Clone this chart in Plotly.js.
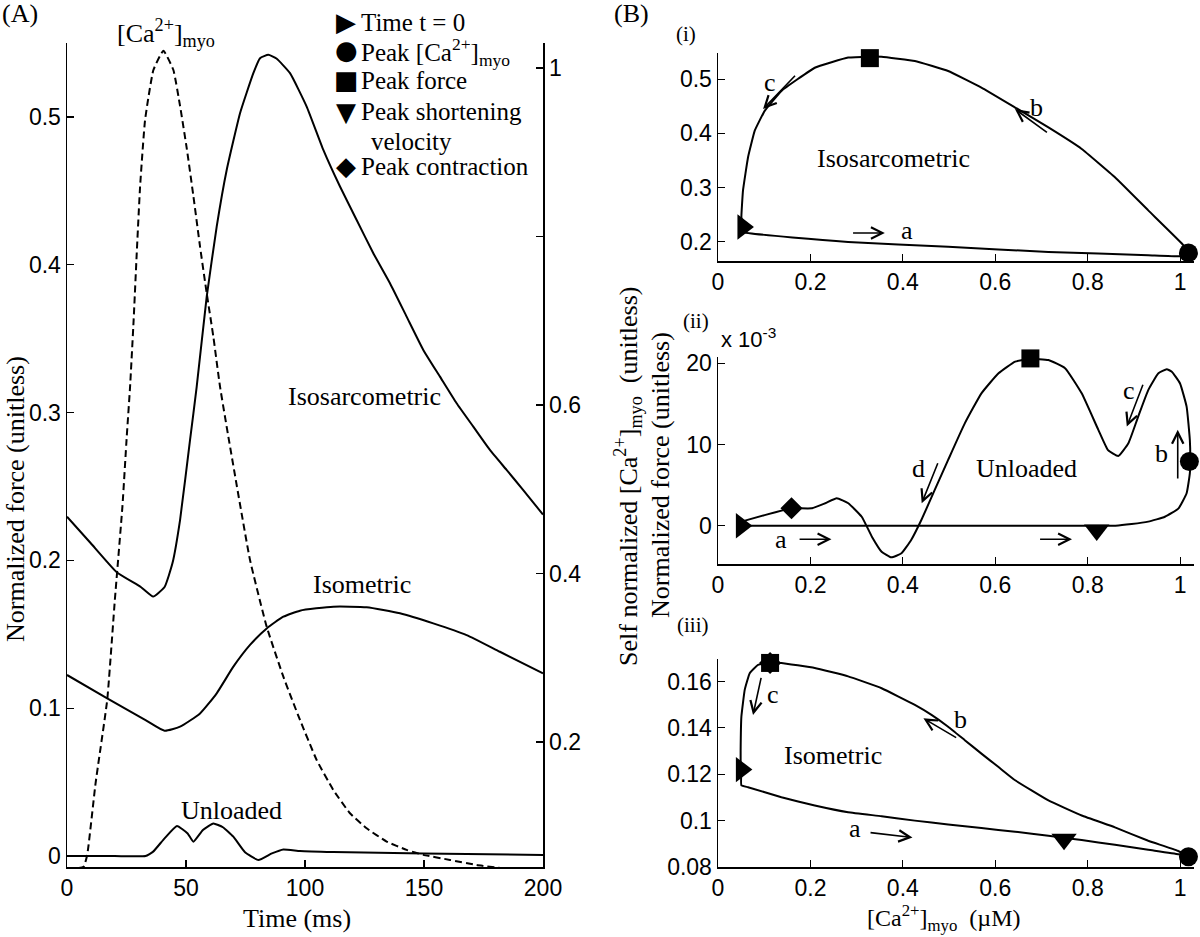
<!DOCTYPE html>
<html><head><meta charset="utf-8">
<script src="https://cdn.plot.ly/plotly-3.0.1.min.js"></script>
<style>html,body{margin:0;padding:0;background:#fff}#chart{width:1200px;height:937px}</style>
</head><body><div id="chart"></div>
<script>
// ---------- Panel A : time courses ----------
const timeIsosarc = [0, 10, 20.9, 31, 36.2, 41, 44.3, 47.5, 51.7, 54.5, 58.7, 62.9, 67.1, 72.7, 78.3, 81.1, 84.6, 88, 93.7, 100.7, 107.7, 114.7, 121.7, 128.7, 135.7, 142.7, 149.7, 156.7, 163.7, 170.7, 177.7, 184.7, 191.7, 200];
const forceIsosarc = [0.2296, 0.2116, 0.192, 0.182, 0.1755, 0.182, 0.198, 0.2273, 0.2815, 0.3175, 0.3784, 0.4258, 0.4641, 0.5025, 0.5296, 0.5397, 0.542, 0.5395, 0.5296, 0.507, 0.4777, 0.4529, 0.4303, 0.4078, 0.3875, 0.3649, 0.3424, 0.3243, 0.3063, 0.2905, 0.2747, 0.2612, 0.2476, 0.231];
const timeIsom = [0, 16.9, 33, 41, 47.5, 55.9, 62.9, 69.9, 76.9, 83.9, 90.9, 97.9, 111.9, 125.9, 139.9, 153.9, 167.9, 181.9, 200];
const forceIsom = [0.1225, 0.1067, 0.092, 0.0848, 0.0875, 0.0965, 0.1101, 0.1281, 0.1428, 0.154, 0.1619, 0.166, 0.1687, 0.1683, 0.1642, 0.1574, 0.1495, 0.1382, 0.1236];
const timeUnl = [0, 20, 33, 36.2, 41, 46.2, 50.7, 53.1, 57.1, 61.5, 65.5, 69.9, 74.8, 80.4, 86.1, 90.9, 97.9, 111.9, 149.7, 200];
const forceUnl = [0, 0, 0, 0.003, 0.012, 0.0203, 0.0153, 0.0097, 0.0176, 0.0221, 0.0195, 0.0131, 0.0025, -0.0027, 0.0018, 0.0045, 0.0034, 0.0027, 0.0018, 0.0007];
const timeCa = [0, 4, 7, 8.5, 12, 16.9, 20.1, 23.3, 25.1, 26.5, 28, 29.3, 30.7, 32.8, 36.3, 40.5, 44.7, 47.5, 50.3, 53.1, 55.9, 58.7, 61.5, 64.3, 67.8, 76.9, 83.9, 90.9, 97.9, 104.9, 111.9, 118.9, 125.9, 134.3, 142.7, 149.7, 160.9, 172.1, 183.3];
const caMyo = [0.05, 0.05, 0.052, 0.066, 0.151, 0.25, 0.3685, 0.48, 0.5624, 0.6217, 0.701, 0.78, 0.859, 0.9383, 0.9976, 1.0205, 0.9976, 0.955, 0.905, 0.848, 0.788, 0.7326, 0.681, 0.6217, 0.5624, 0.416, 0.3369, 0.2775, 0.2261, 0.1786, 0.143, 0.1154, 0.0975, 0.0818, 0.0719, 0.066, 0.06, 0.054, 0.05];

const timeTicks = [0, 50, 100, 150, 200];
const forceTicksA = [0, 0.1, 0.2, 0.3, 0.4, 0.5];
const forceTickTextA = ["0", "0.1", "0.2", "0.3", "0.4", "0.5"];
const caTicksA = [0.2, 0.4, 0.6, 0.8, 1];
const caTickTextA = ["0.2", "0.4", "0.6", "", "1"];

// ---------- Panel B : force vs [Ca2+] loops ----------
const caTicksB = [0, 0.2, 0.4, 0.6, 0.8, 1];
const caTickTextB = ["0", "0.2", "0.4", "0.6", "0.8", "1"];

// (i) isosarcometric
const loopIsosarcCa = [0.054, 0.054, 0.2816, 0.498, 0.715, 0.931, 1.0037, 1.02, 1.0037, 0.931, 0.859, 0.787, 0.715, 0.643, 0.570, 0.498, 0.426, 0.354, 0.3286, 0.2816, 0.2094, 0.1373, 0.101, 0.0795, 0.065, 0.0541, 0.0506, 0.053];
const loopIsosarcF = [0.2272, 0.218, 0.1996, 0.1905, 0.1812, 0.1752, 0.1733, 0.178, 0.1967, 0.2579, 0.3191, 0.3713, 0.411, 0.4478, 0.4846, 0.5153, 0.5336, 0.5415, 0.5418, 0.54, 0.5213, 0.4785, 0.4417, 0.405, 0.356, 0.2947, 0.2456, 0.2272];
const markIsosarcCa = [0.054, 1.018, 0.3286];
const markIsosarcF = [0.2272, 0.1794, 0.539];
const markIsosarcSym = ["triangle-right", "circle", "square"];
const forceTicksI = [0.2, 0.3, 0.4, 0.5];
const forceTickTextI = ["0.2", "0.3", "0.4", "0.5"];

// (ii) unloaded (force in units of 1e-3)
const loopUnlCa = [0.0506, 0.3, 0.6, 0.82, 0.86, 0.895, 0.931, 0.967, 0.996, 1.014, 1.021, 1.022, 1.021, 1.014, 0.9996, 0.982, 0.971, 0.953, 0.931, 0.909, 0.888, 0.866, 0.844, 0.823, 0.787, 0.751, 0.715, 0.676, 0.643, 0.607, 0.570, 0.534, 0.498, 0.469, 0.440, 0.418, 0.397, 0.375, 0.354, 0.333, 0.311, 0.282, 0.257, 0.232, 0.203, 0.174, 0.159, 0.101, 0.0506];
const loopUnlF = [0, 0, 0, 0, 0, 0.2, 0.5, 1.1, 2.1, 4.0, 6.45, 8.0, 10.55, 14.66, 17.54, 18.97, 19.26, 18.77, 16.7, 13.4, 10.15, 8.58, 9.3, 11.8, 16.3, 19.4, 20.4, 20.55, 20.2, 18.77, 16.3, 12.6, 8.1, 4.4, 0.7, -1.76, -3.4, -3.9, -3.2, -1.35, 1.1, 2.76, 3.37, 2.76, 2.14, 2.14, 2.14, 1.3, 0.5];
const markUnlCa = [0.0506, 0.159, 0.676, 0.8195, 1.02];
const markUnlF = [0, 2.14, 20.6, -0.53, 7.9];
const markUnlSym = ["triangle-right", "diamond", "square", "triangle-down", "circle"];
const forceTicksII = [0, 10, 20];
const forceTickTextII = ["0", "10", "20"];

// (iii) isometric
const loopIsomCa = [0.0506, 0.0506, 0.065, 0.1373, 0.2094, 0.2816, 0.354, 0.426, 0.498, 0.570, 0.643, 0.715, 0.787, 0.859, 0.931, 0.996, 1.018, 0.9948, 0.931, 0.859, 0.787, 0.715, 0.643, 0.607, 0.570, 0.534, 0.498, 0.462, 0.426, 0.354, 0.2816, 0.2094, 0.1373, 0.1127, 0.0867, 0.0686, 0.0578, 0.0506, 0.049, 0.049];
const loopIsomF = [0.122, 0.1152, 0.1144, 0.1101, 0.1065, 0.1036, 0.1019, 0.1, 0.0983, 0.0968, 0.0952, 0.0935, 0.0916, 0.0896, 0.0874, 0.0855, 0.0844, 0.087, 0.0913, 0.0971, 0.1022, 0.1087, 0.1174, 0.1231, 0.1289, 0.1347, 0.1405, 0.1456, 0.1499, 0.1571, 0.1622, 0.1658, 0.168, 0.168, 0.1672, 0.1636, 0.1564, 0.1448, 0.1304, 0.122];
const markIsomCa = [0.0506, 0.1127, 0.1127, 0.7488, 1.018];
const markIsomF = [0.122, 0.168, 0.168, 0.092, 0.0844];
const markIsomSym = ["triangle-right", "diamond", "square", "triangle-down", "circle"];
const forceTicksIII = [0.08, 0.1, 0.12, 0.14, 0.16];
const forceTickTextIII = ["0.08", "0.1", "0.12", "0.14", "0.16"];

// ---------- helpers ----------
const W = 1200, H = 937;
const px = x => x / W, py = y => 1 - y / H;
const serif = '"Liberation Serif", "Times New Roman", serif';
const sans = '"Liberation Sans", Arial, sans-serif';
const axisBase = {
  showline: true, linecolor: '#000', linewidth: 1.5, ticks: 'inside', ticklen: 7, tickwidth: 1.2,
  tickcolor: '#000', showgrid: false, zeroline: false, fixedrange: true,
  tickfont: {family: sans, size: 23, color: '#000'}
};
const ax = extra => Object.assign({}, axisBase, extra);
const lineStyle = {color: '#000', width: 2};
const spl = s => Object.assign({shape: 'spline', smoothing: s}, lineStyle);
const symSize = {"triangle-right": 22, "triangle-down": 22, "circle": 19, "square": 18, "diamond": 17};
const markerFor = syms => ({symbol: syms, size: syms.map(s => symSize[s]), color: '#000', opacity: 1, line: {width: 0}});

const traces = [
  {x: timeIsosarc, y: forceIsosarc, xaxis: 'x', yaxis: 'y', mode: 'lines', line: spl(0.4), name: 'Isosarcometric'},
  {x: timeIsom, y: forceIsom, xaxis: 'x', yaxis: 'y', mode: 'lines', line: spl(0.5), name: 'Isometric'},
  {x: timeUnl, y: forceUnl, xaxis: 'x', yaxis: 'y', mode: 'lines', line: spl(0.4), name: 'Unloaded'},
  {x: timeCa, y: caMyo, xaxis: 'x', yaxis: 'y2', mode: 'lines', line: {color: '#000', width: 2, dash: '7px,4px', shape: 'spline', smoothing: 0.4}, name: '[Ca2+]myo'},

  {x: loopIsosarcCa, y: loopIsosarcF, xaxis: 'x2', yaxis: 'y3', mode: 'lines', line: spl(0.3)},
  {x: markIsosarcCa, y: markIsosarcF, xaxis: 'x2', yaxis: 'y3', mode: 'markers', cliponaxis: false, marker: markerFor(markIsosarcSym)},

  {x: loopUnlCa, y: loopUnlF, xaxis: 'x3', yaxis: 'y4', mode: 'lines', line: spl(0.4)},
  {x: markUnlCa, y: markUnlF, xaxis: 'x3', yaxis: 'y4', mode: 'markers', cliponaxis: false, marker: markerFor(markUnlSym)},

  {x: loopIsomCa, y: loopIsomF, xaxis: 'x4', yaxis: 'y5', mode: 'lines', line: spl(0.3)},
  {x: markIsomCa, y: markIsomF, xaxis: 'x4', yaxis: 'y5', mode: 'markers', cliponaxis: false, marker: markerFor(markIsomSym)}
];

function txt(text, x, y, opts) {
  return Object.assign({text: text, x: px(x), y: py(y), xref: 'paper', yref: 'paper', showarrow: false,
    xanchor: 'center', yanchor: 'middle', font: {family: serif, size: 26, color: '#000'}}, opts || {});
}
function dtxt(text, xr, yr, x, y, opts) {
  return Object.assign({text: text, x: x, y: y, xref: xr, yref: yr, showarrow: false,
    xanchor: 'center', yanchor: 'middle', font: {family: serif, size: 26, color: '#000'}}, opts || {});
}
function arrow(xr, yr, x0, y0, x1, y1) {
  return {x: x1, y: y1, ax: x0, ay: y0, xref: xr, yref: yr, axref: xr, ayref: yr, text: '', showarrow: true,
    arrowhead: 5, arrowsize: 1.4, arrowwidth: 1.6, arrowcolor: '#000', standoff: 0, startstandoff: 0};
}
const glyph = (g, x, y, size) => txt(g, x, y, {font: {family: '"DejaVu Sans", sans-serif', size: size, color: '#000'}});
const legendFont = {family: serif, size: 25, color: '#000'};

const annotations = [
  // panel labels
  txt('(A)', 20, 14),
  txt('(B)', 632, 14),
  txt('(i)', 686, 34, {font: {family: serif, size: 21, color: '#000'}}),
  txt('(ii)', 696, 321, {font: {family: serif, size: 21, color: '#000'}}),
  txt('(iii)', 693, 625, {font: {family: serif, size: 21, color: '#000'}}),
  // axis titles
  txt('Time (ms)', 297, 918),
  txt('Normalized force (unitless)', 15, 499, {textangle: -90}),
  txt('[Ca<sup>2+</sup>]<sub>myo</sub>  (µM)', 944, 937, {yanchor: 'bottom', font: {family: serif, size: 24, color: '#000'}}),
  txt('Self normalized [Ca<sup>2+</sup>]<sub>myo</sub>  (unitless)', 628, 476, {textangle: -90}),
  txt('Normalized force (unitless)', 661, 475, {textangle: -90}),
  txt('x 10<sup>-3</sup>', 719, 338, {xanchor: 'left', font: {family: sans, size: 22, color: '#000'}}),
  // panel A curve labels
  txt('[Ca<sup>2+</sup>]<sub>myo</sub>', 166, 33),
  dtxt('Isosarcometric', 'x', 'y', 125.2, 0.3106),
  dtxt('Isometric', 'x', 'y', 124, 0.1834),
  dtxt('Unloaded', 'x', 'y', 69.3, 0.0311),
  // legend
  glyph('▶', 346, 22, 26), txt('Time t = 0', 359, 22, {xanchor: 'left', font: legendFont}),
  glyph('●', 346, 50, 26), txt('Peak [Ca<sup>2+</sup>]<sub>myo</sub>', 359, 52, {xanchor: 'left', font: legendFont}),
  glyph('■', 346, 80, 26), txt('Peak force', 359, 80, {xanchor: 'left', font: legendFont}),
  glyph('▼', 346, 112, 26), txt('Peak shortening', 359, 112, {xanchor: 'left', font: legendFont}),
  txt('velocity', 369, 142, {xanchor: 'left', font: legendFont}),
  glyph('◆', 346, 166, 26), txt('Peak contraction', 359, 166, {xanchor: 'left', font: legendFont}),
  // (i)
  arrow('x2', 'y3', 0.1698, 0.5092, 0.0975, 0.4449), dtxt('c', 'x2', 'y3', 0.112, 0.4938),
  arrow('x2', 'y3', 0.715, 0.40, 0.6426, 0.4449), dtxt('b', 'x2', 'y3', 0.6896, 0.4478),
  arrow('x2', 'y3', 0.289, 0.2162, 0.361, 0.2162), dtxt('a', 'x2', 'y3', 0.408, 0.2211),
  dtxt('Isosarcometric', 'x2', 'y3', 0.379, 0.353),
  // (ii)
  arrow('x3', 'y4', 0.9207, 17.54, 0.8846, 12.2), dtxt('c', 'x3', 'y4', 0.8883, 16.7),
  arrow('x3', 'y4', 0.9948, 5.63, 0.9948, 11.8), dtxt('b', 'x3', 'y4', 0.959, 8.9),
  arrow('x3', 'y4', 0.4769, 7.88, 0.4408, 2.76), dtxt('d', 'x3', 'y4', 0.4348, 7.07),
  arrow('x3', 'y4', 0.1733, -1.68, 0.2455, -1.68), dtxt('a', 'x3', 'y4', 0.1373, -1.76),
  arrow('x3', 'y4', 0.6937, -1.68, 0.766, -1.68),
  dtxt('Unloaded', 'x3', 'y4', 0.668, 7.07),
  // (iii)
  arrow('x4', 'y5', 0.094, 0.1622, 0.0758, 0.1456), dtxt('c', 'x4', 'y5', 0.1191, 0.1542),
  arrow('x4', 'y5', 0.5186, 0.1354, 0.4445, 0.1441), dtxt('b', 'x4', 'y5', 0.524, 0.1434),
  arrow('x4', 'y5', 0.3268, 0.0949, 0.4208, 0.0927), dtxt('a', 'x4', 'y5', 0.296, 0.0964),
  dtxt('Isometric', 'x4', 'y5', 0.249, 0.1282)
];

const layout = {
  width: W, height: H, margin: {l: 0, r: 0, t: 0, b: 0},
  paper_bgcolor: '#fff', plot_bgcolor: 'rgba(0,0,0,0)', showlegend: false, hovermode: false,
  xaxis: ax({domain: [px(67), px(543)], range: [0, 200], tickvals: timeTicks, ticktext: timeTicks.map(String), anchor: 'y'}),
  yaxis: ax({domain: [py(867), py(43)], range: [-0.0074, 0.550], tickvals: forceTicksA, ticktext: forceTickTextA, anchor: 'x'}),
  yaxis2: ax({overlaying: 'y', side: 'right', anchor: 'x', range: [0.0516, 1.0297], tickvals: caTicksA, ticktext: caTickTextA}),
  xaxis2: ax({domain: [px(718), px(1194)], range: [0, 1.03], tickvals: caTicksB, ticktext: caTickTextB, anchor: 'y3'}),
  yaxis3: ax({domain: [py(261), py(53)], range: [0.1644, 0.5485], tickvals: forceTicksI, ticktext: forceTickTextI, anchor: 'x2'}),
  xaxis3: ax({domain: [px(718), px(1194)], range: [0, 1.03], tickvals: caTicksB, ticktext: caTickTextB, anchor: 'y4'}),
  yaxis4: ax({domain: [py(564), py(356.8)], range: [-4.72, 20.8], tickvals: forceTicksII, ticktext: forceTickTextII, anchor: 'x3'}),
  xaxis4: ax({domain: [px(718), px(1194)], range: [0, 1.03], tickvals: caTicksB, ticktext: caTickTextB, anchor: 'y5'}),
  yaxis5: ax({domain: [py(867), py(659)], range: [0.08, 0.1697], tickvals: forceTicksIII, ticktext: forceTickTextIII, anchor: 'x4'}),
  annotations: annotations
};

Plotly.newPlot('chart', traces, layout, {staticPlot: true, displayModeBar: false});
</script>
</body></html>
